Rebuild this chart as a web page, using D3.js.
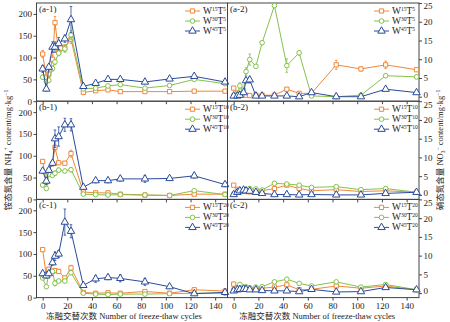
<!DOCTYPE html>
<html>
<head>
<meta charset="utf-8">
<script src="https://cdn.jsdelivr.net/npm/d3@7"></script>
<style>
body { margin: 0; background: #fff; }
svg { display: block; }
text { font-family: "Liberation Serif", "Noto Sans CJK SC", serif; fill: #222; }
</style>
</head>
<body>
<div id="chart"></div>
<script>
// sampling points (freeze-thaw cycles)
let days = [0, 3, 5, 8, 10, 13, 18, 23, 33, 43, 53, 63, 83, 103, 123, 148];
let xTicks = [0, 20, 40, 60, 80, 100, 120, 140];
let nh4Ticks = [0, 50, 100, 150, 200];
let no3Ticks = [0, 5, 10, 15, 20, 25];

let wLabels = ['15', '30', '45'];
let tLabels = ['5', '10', '20'];
let leftTags = ['(a-1)', '(b-1)', '(c-1)'];
let rightTags = ['(a-2)', '(b-2)', '(c-2)'];

// NH4+ values, rows a/b/c, series W15 / W30 / W45
let nh4A15 = [108, 55, 62, 96, 180, 112, 122, 142, 20, 24, 26, 22, 22, 22, 23, 23];
let nh4A30 = [55, 45, 48, 75, 90, 110, 120, 152, 28, 30, 35, 38, 30, 36, 50, 40];
let nh4A45 = [74, 28, 78, 124, 124, 132, 143, 187, 34, 41, 50, 50, 44, 51, 57, 44];
let nh4B15 = [87, 40, 65, 82, 119, 84, 83, 105, 17, 15, 15, 12, 10, 9, 12, 12];
let nh4B30 = [33, 25, 58, 55, 60, 67, 65, 68, 12, 11, 10, 11, 10, 9, 20, 11];
let nh4B45 = [65, 42, 67, 83, 139, 144, 171, 171, 28, 43, 43, 47, 47, 48, 54, 34];
let nh4C15 = [110, 50, 65, 60, 62, 60, 45, 68, 12, 10, 11, 10, 14, 10, 18, 15];
let nh4C30 = [45, 25, 55, 60, 33, 38, 38, 57, 10, 8, 7, 8, 8, 9, 10, 10];
let nh4C45 = [55, 50, 55, 80, 95, 100, 173, 152, 28, 43, 46, 44, 36, 25, 9, 12];

let nh4ErrA15 = [8, 3, 3, 8, 14, 6, 8, 10, 2, 2, 2, 2, 2, 2, 2, 2];
let nh4ErrA30 = [5, 5, 5, 6, 6, 6, 8, 10, 2, 2, 2, 2, 2, 2, 2, 2];
let nh4ErrA45 = [8, 5, 5, 12, 12, 14, 8, 30, 3, 4, 4, 3, 4, 3, 3, 3];
let nh4ErrB15 = [3, 3, 4, 5, 8, 4, 4, 8, 2, 2, 2, 2, 2, 2, 2, 2];
let nh4ErrB30 = [4, 4, 4, 4, 5, 5, 4, 5, 2, 2, 2, 1, 1, 1, 2, 1];
let nh4ErrB45 = [5, 8, 5, 6, 20, 22, 15, 14, 3, 5, 5, 5, 8, 4, 5, 5];
let nh4ErrC15 = [4, 4, 4, 4, 4, 4, 4, 6, 2, 2, 2, 2, 2, 2, 2, 2];
let nh4ErrC30 = [4, 4, 4, 4, 6, 4, 4, 4, 2, 1, 1, 1, 1, 1, 1, 1];
let nh4ErrC45 = [5, 5, 5, 6, 10, 8, 30, 15, 4, 8, 5, 8, 8, 4, 3, 3];

// NO3- values
let no3A15 = [2.3, 1.0, 0.6, 0.5, 0.4, 0.3, 0.4, 0.4, 0.4, 2.0, 0.9, 0.9, 8.5, 7.4, 8.5, 7.2];
let no3A30 = [0.4, 0.6, 2.9, 1.8, 6.7, 9.9, 8.1, 14.4, 24.3, 8.3, 11.7, 0.2, 0.0, 0.4, 5.6, 5.3];
let no3A45 = [0.2, 0.2, 0.4, 1.1, 4.3, 4.5, 0.2, 0.2, 0.2, 0.2, 0.0, 1.1, 0.0, 0.0, 2.0, 1.1];
let no3B15 = [2.6, 1.5, 1.0, 1.0, 0.9, 0.8, 0.8, 1.1, 1.7, 2.6, 1.7, 1.1, 1.4, 0.9, 1.1, 0.7];
let no3B30 = [0.3, 0.7, 1.1, 1.4, 1.4, 1.7, 1.6, 1.3, 3.1, 2.9, 2.6, 2.0, 2.2, 1.4, 1.7, 0.7];
let no3B45 = [0.1, 0.7, 1.1, 1.3, 1.1, 1.0, 0.7, 0.4, 0.1, 0.1, 0.0, 0.1, 0.0, 0.0, 0.4, 0.7];
let no3C15 = [2.4, 1.3, 1.3, 1.2, 1.2, 1.2, 1.2, 1.3, 1.6, 2.2, 0.9, 1.0, 1.9, 1.3, 1.9, 0.9];
let no3C30 = [1.0, 1.5, 2.3, 1.3, 1.7, 1.4, 1.6, 1.7, 3.0, 3.7, 2.6, 1.9, 3.0, 1.6, 2.3, 0.9];
let no3C45 = [0.6, 0.9, 1.0, 1.1, 1.0, 0.9, 0.9, 0.7, 0.6, 0.6, 0.4, 1.0, 0.3, 0.4, 1.5, 0.9];

let no3ErrA15 = [0.4, 0.2, 0.2, 0.2, 0.2, 0.2, 0.2, 0.2, 0.2, 0.4, 0.3, 0.3, 1.2, 0.5, 1.0, 0.5];
let no3ErrA30 = [0.2, 0.3, 0.8, 0.5, 1.0, 1.5, 0.5, 0.5, 0.5, 1.8, 0.6, 0.3, 0.2, 0.2, 0.5, 0.5];
let no3ErrA45 = [0.1, 0.1, 0.2, 0.3, 0.6, 0.8, 0.1, 0.1, 0.1, 0.1, 0.1, 0.2, 0.1, 0.1, 0.3, 0.2];
let no3ErrB15 = [0.4, 0.2, 0.2, 0.2, 0.2, 0.2, 0.2, 0.2, 0.3, 0.3, 0.3, 0.2, 0.2, 0.2, 0.2, 0.2];
let no3ErrB30 = [0.2, 0.2, 0.3, 0.3, 0.3, 0.3, 0.3, 0.2, 0.3, 0.3, 0.3, 0.2, 0.2, 0.2, 0.2, 0.2];
let no3ErrB45 = [0.1, 0.2, 0.2, 0.2, 0.2, 0.2, 0.1, 0.1, 0.1, 0.1, 0.1, 0.1, 0.1, 0.1, 0.1, 0.1];
let no3ErrC15 = [0.5, 0.2, 0.2, 0.2, 0.2, 0.2, 0.2, 0.2, 0.2, 0.3, 0.2, 0.2, 0.3, 0.2, 0.3, 0.2];
let no3ErrC30 = [0.2, 0.3, 0.3, 0.2, 0.2, 0.2, 0.2, 0.2, 0.3, 0.3, 0.3, 0.2, 0.3, 0.2, 0.3, 0.2];
let no3ErrC45 = [0.1, 0.2, 0.2, 0.2, 0.1, 0.1, 0.1, 0.1, 0.1, 0.1, 0.1, 0.1, 0.1, 0.1, 0.2, 0.1];

let nh4Rows = [[nh4A15, nh4A30, nh4A45], [nh4B15, nh4B30, nh4B45], [nh4C15, nh4C30, nh4C45]];
let nh4ErrRows = [[nh4ErrA15, nh4ErrA30, nh4ErrA45], [nh4ErrB15, nh4ErrB30, nh4ErrB45], [nh4ErrC15, nh4ErrC30, nh4ErrC45]];
let no3Rows = [[no3A15, no3A30, no3A45], [no3B15, no3B30, no3B45], [no3C15, no3C30, no3C45]];
let no3ErrRows = [[no3ErrA15, no3ErrA30, no3ErrA45], [no3ErrB15, no3ErrB30, no3ErrB45], [no3ErrC15, no3ErrC30, no3ErrC45]];

let colors = ['#f0883a', '#86c24a', '#2a4b9b'];

// layout
let width = 450, height = 322;
let top0 = 3, panelH = 98.2;
let leftRange = [36.5, 227.5];
let rightRange = [227.5, 419];

let svg = d3.select('#chart')
    .append('svg')
    .attr('width', width)
    .attr('height', height);

// square / circle / triangle, all hollow
function drawMarker(sel, s, color) {
    let shape = [d3.symbolSquare, d3.symbolCircle, d3.symbolTriangle][s];
    let size = [18, 17, 24][s];
    sel.append('path')
        .attr('d', d3.symbol().type(shape).size(size)())
        .attr('fill', '#fff')
        .attr('stroke', color)
        .attr('stroke-width', 1);
}

function drawPanel(row, side) {
    let yTop = top0 + row * panelH;
    let yBot = yTop + panelH;
    let x = d3.scaleLinear().domain([-5, 150]).range(side == 0 ? leftRange : rightRange);
    let y = side == 0
        ? d3.scaleLinear().domain([0, 225]).range([yBot, yTop])
        : d3.scaleLinear().domain([-1.2, 25]).range([yBot, yTop]);
    let rows = side == 0 ? nh4Rows[row] : no3Rows[row];
    let errs = side == 0 ? nh4ErrRows[row] : no3ErrRows[row];

    let g = svg.append('g');

    // x ticks, labels only on the last row
    g.append('g')
        .attr('transform', `translate(0,${yBot})`)
        .call(d3.axisBottom(x).tickValues(xTicks).tickSize(3).tickSizeOuter(0).tickPadding(2)
            .tickFormat(row == 2 ? d3.format('d') : () => ''))
        .call(a => a.select('.domain').remove())
        .call(a => a.selectAll('line').attr('stroke', '#444'))
        .call(a => a.selectAll('text').style('font-size', '9px').attr('fill', '#222'));

    if (side == 0) {
        g.append('g')
            .attr('transform', `translate(${leftRange[0]},0)`)
            .call(d3.axisLeft(y).tickValues(nh4Ticks).tickSize(3).tickPadding(1.5))
            .call(a => a.select('.domain').remove())
            .call(a => a.selectAll('line').attr('stroke', '#444'))
            .call(a => a.selectAll('text').style('font-size', '9px').attr('fill', '#222'));
    } else {
        // 0 and 25 of stacked panels sit close together, nudge them apart
        g.append('g')
            .attr('transform', `translate(${rightRange[1]},0)`)
            .call(d3.axisRight(y).tickValues(no3Ticks).tickSize(3).tickPadding(1.5))
            .call(a => a.select('.domain').remove())
            .call(a => a.selectAll('line').attr('stroke', '#444'))
            .call(a => a.selectAll('text').style('font-size', '9px').attr('fill', '#222')
                .attr('y', d => d == 0 ? -2.5 : d == 25 ? 3 : 0));
    }

    // frame
    g.append('rect')
        .attr('x', x.range()[0])
        .attr('y', yTop)
        .attr('width', x.range()[1] - x.range()[0])
        .attr('height', panelH)
        .attr('fill', 'none')
        .attr('stroke', '#444')
        .attr('stroke-width', 1);

    // series
    rows.forEach((vals, s) => {
        let pts = days.map((d, i) => ({ d: d, v: vals[i], e: errs[s][i] }));
        let sg = g.append('g');

        sg.selectAll('.err')
            .data(pts)
            .enter()
            .append('path')
            .attr('d', p => `M${x(p.d)},${y(p.v - p.e)}V${y(p.v + p.e)}M${x(p.d) - 1.3},${y(p.v + p.e)}h2.6M${x(p.d) - 1.3},${y(p.v - p.e)}h2.6`)
            .attr('stroke', colors[s])
            .attr('stroke-width', 0.8)
            .attr('fill', 'none');

        sg.append('path')
            .datum(pts)
            .attr('d', d3.line().x(p => x(p.d)).y(p => y(p.v)))
            .attr('fill', 'none')
            .attr('stroke', colors[s])
            .attr('stroke-width', 1);

        sg.selectAll('.mk')
            .data(pts)
            .enter()
            .append('g')
            .attr('transform', p => `translate(${x(p.d)},${y(p.v)})`)
            .each(function () { drawMarker(d3.select(this), s, colors[s]); });
    });

    // legend
    let lx = side == 0 ? 185 : 374;
    [0, 1, 2].forEach(s => {
        let ly = yTop + 8 + s * 10;
        let lg = g.append('g');
        lg.append('line')
            .attr('x1', lx).attr('x2', lx + 15)
            .attr('y1', ly).attr('y2', ly)
            .attr('stroke', colors[s]);
        let mk = lg.append('g').attr('transform', `translate(${lx + 7.5},${ly})`);
        drawMarker(mk, s, colors[s]);
        let t = lg.append('text')
            .attr('x', lx + 18)
            .attr('y', ly + 3)
            .style('font-size', '9.5px');
        t.append('tspan').text('W');
        t.append('tspan').attr('dy', -3).style('font-size', '5.5px').text(wLabels[s]);
        t.append('tspan').attr('dy', 3).text('T');
        t.append('tspan').attr('dy', -3).style('font-size', '5.5px').text(tLabels[row]);
    });

    // panel tag
    g.append('text')
        .text(side == 0 ? leftTags[row] : rightTags[row])
        .attr('x', x.range()[0] + 2.5)
        .attr('y', yTop + 9)
        .style('font-size', '9px');
}

for (let r = 0; r < 3; r++) {
    drawPanel(r, 0);
    drawPanel(r, 1);
}

// x axis titles under each column
[(leftRange[0] + leftRange[1]) / 2 - 8, (rightRange[0] + rightRange[1]) / 2 - 6].forEach(cx => {
    svg.append('text')
        .text('冻融交替次数 Number of freeze-thaw cycles')
        .attr('x', cx)
        .attr('y', 319)
        .attr('text-anchor', 'middle')
        .style('font-size', '8.5px');
});

// y axis titles
function yTitle(cx, cy, head, ion, sub, charge) {
    let t = svg.append('text')
        .attr('transform', `translate(${cx},${cy}) rotate(-90)`)
        .attr('text-anchor', 'middle')
        .style('font-size', '8.5px');
    t.append('tspan').text(head + ion);
    t.append('tspan').attr('dy', 2).style('font-size', '5.5px').text(sub);
    t.append('tspan').attr('dy', -5).style('font-size', '5.5px').text(charge);
    t.append('tspan').attr('dy', 3).text(' content/mg·kg');
    t.append('tspan').attr('dy', -3).style('font-size', '5.5px').text('−1');
}
yTitle(11, 150, '铵态氮含量 ', 'NH', '4', '+');
yTitle(443, 150, '硝态氮含量 ', 'NO', '3', '−');
</script>
</body>
</html>
